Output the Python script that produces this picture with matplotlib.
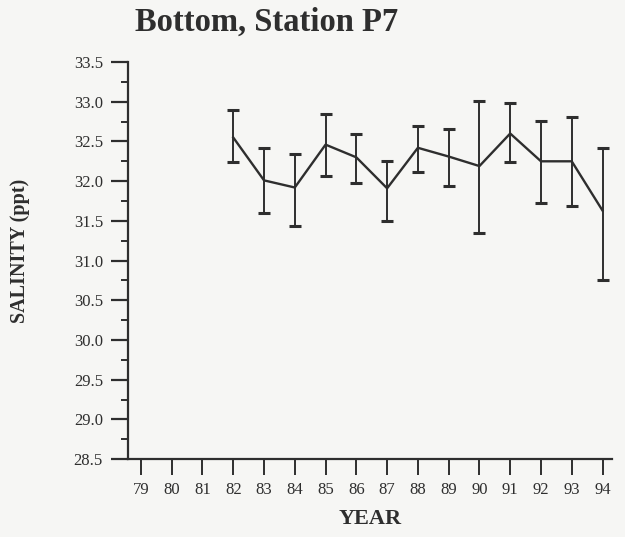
import matplotlib
matplotlib.use("Agg")
import matplotlib.pyplot as plt
from matplotlib.ticker import MultipleLocator

years = [82, 83, 84, 85, 86, 87, 88, 89, 90, 91, 92, 93, 94]
salinity = [32.55, 32.01, 31.92, 32.46, 32.30, 31.91, 32.42, 32.31, 32.19, 32.60, 32.25, 32.25, 31.63]
upper = [32.89, 32.42, 32.34, 32.84, 32.60, 32.25, 32.69, 32.66, 33.01, 32.99, 32.76, 32.81, 32.42]
lower = [32.24, 31.60, 31.44, 32.07, 31.98, 31.50, 32.12, 31.94, 31.35, 32.24, 31.72, 31.69, 30.76]
year_ticks = list(range(79, 95))
year_labels = [str(y) for y in year_ticks]
salinity_ticks = [28.5, 29.0, 29.5, 30.0, 30.5, 31.0, 31.5, 32.0, 32.5, 33.0, 33.5]

bg = "#f6f6f4"
ink = "#2e2e2e"
serif = ["Liberation Serif", "DejaVu Serif"]

fig = plt.figure(figsize=(6.25, 5.37), dpi=100, facecolor=bg)
ax = fig.add_axes([0.2048, 0.145, 0.774, 0.7395], facecolor=bg)

err_lo = [s - l for s, l in zip(salinity, lower)]
err_hi = [u - s for s, u in zip(salinity, upper)]
ax.errorbar(years, salinity, yerr=[err_lo, err_hi], color=ink, lw=1.7,
            elinewidth=1.4, capsize=4, capthick=2.2)

ax.set_xlim(78.58, 94.3)
ax.set_ylim(28.5, 33.5)
ax.set_xticks(year_ticks)
ax.set_xticklabels(year_labels)
ax.set_yticks(salinity_ticks)
ax.set_yticklabels([f"{v:.1f}" for v in salinity_ticks])
ax.yaxis.set_minor_locator(MultipleLocator(0.25))

for side in ("top", "right"):
    ax.spines[side].set_visible(False)
for side in ("left", "bottom"):
    ax.spines[side].set_color(ink)
    ax.spines[side].set_linewidth(1.6)

ax.tick_params(axis="y", which="major", direction="out", length=12, width=1.6,
               colors=ink, labelsize=12, pad=6)
ax.tick_params(axis="y", which="minor", direction="out", length=5, width=1.4, colors=ink)
ax.tick_params(axis="x", which="major", direction="out", length=11.5, width=1.4,
               colors=ink, labelsize=12, pad=5)
for lab in ax.get_xticklabels() + ax.get_yticklabels():
    lab.set_family(serif)

ax.set_xlabel("YEAR", family=serif, fontweight="bold", fontsize=16, color=ink, labelpad=8)
fig.text(0.032, 0.533, "SALINITY (ppt)", rotation=90, family=serif, fontweight="bold",
         fontsize=14.5, color=ink, ha="center", va="center")
fig.text(0.216, 0.958, "Bottom, Station P7", family=serif, fontweight="bold",
         fontsize=23.5, color=ink, ha="left", va="center")

fig.savefig("out.png", dpi=100, facecolor=bg)
